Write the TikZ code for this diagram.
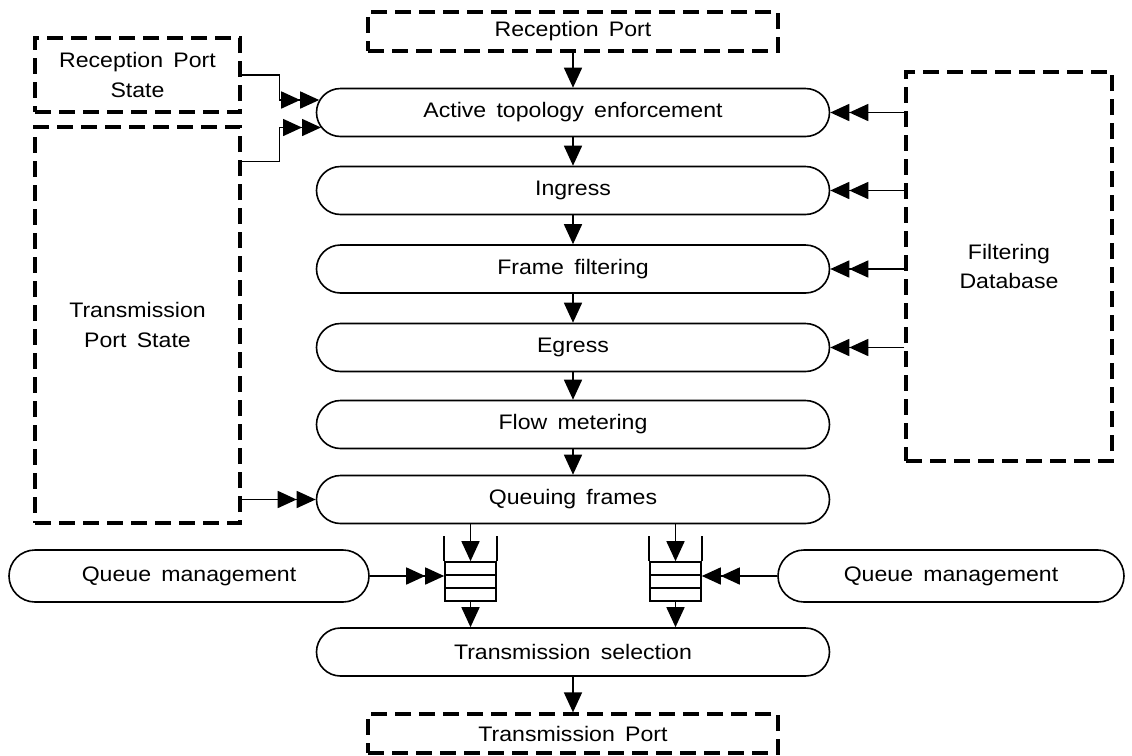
\documentclass[tikz,border=0pt]{standalone}
\usepackage{fontspec}
\setmainfont{Liberation Sans}[FakeStretch=1.1, WordSpace=1.6]
\usetikzlibrary{arrows.meta,calc}

\begin{document}
\begin{tikzpicture}[x=0.5pt,y=-0.5pt,
  font=\fontsize{10.5}{14.8}\selectfont,
  proc/.style={draw, line width=0.8pt, rounded corners=12pt,
    minimum width=256.5pt, minimum height=24pt, inner sep=0pt},
  port/.style={draw, line width=1.6pt, dash pattern=on 8pt off 4pt,
    inner sep=0pt, align=center},
  flow/.style={line width=0.8pt, -{Triangle[length=10pt,width=9pt]}},
  dflow/.style={line width=0.8pt,
    -{Triangle[length=9.5pt,width=8.5pt]Triangle[length=9.5pt,width=8.5pt]}},
  fifo/.style={draw, line width=0.8pt, minimum width=25.5pt,
    minimum height=19.5pt, inner sep=0pt}
]
\useasboundingbox (0,0) rectangle (1132,756);

% ports and state / database blocks
\node[port, minimum width=205pt, minimum height=19.5pt] (rp) at (573,31.5) {Reception Port};
\node[port, minimum width=102.5pt, minimum height=37pt] (rps) at (137.5,75) {Reception Port\\State};
\node[port, minimum width=102.5pt, minimum height=198pt] (tps) at (137.5,325) {Transmission\\Port State};
\node[port, minimum width=103pt, minimum height=194.5pt] (fdb) at (1009,266.5) {Filtering\\Database};
\node[port, minimum width=205pt, minimum height=19.5pt] (tp) at (573,733.5) {Transmission Port};

% forwarding process stages
\node[proc] (ate) at (573,112.5) {Active topology enforcement};
\node[proc] (ing) at (573,190.5) {Ingress};
\node[proc] (ff)  at (573,269)   {Frame filtering};
\node[proc] (eg)  at (573,347.5) {Egress};
\node[proc] (fm)  at (573,424.5) {Flow metering};
\node[proc] (qf)  at (573,499.5) {Queuing frames};
\node[proc] (ts)  at (573,652)   {Transmission selection};

\node[proc, minimum width=180pt, minimum height=26pt, rounded corners=13pt] (qml) at (189,576) {Queue management};
\node[proc, minimum width=173pt, minimum height=26pt, rounded corners=13pt] (qmr) at (951,576) {Queue management};

% the two output queues
\foreach \q/\x in {ql/470.5, qr/675.5} {
  \node[fifo] (\q) at (\x,581.5) {};
  \draw[line width=0.8pt] (\q.north west) -- ++(0,-25);
  \draw[line width=0.8pt] (\q.north east) -- ++(0,-25);
  \draw[line width=0.8pt] ($(\q.north west)+(0,13.5)$) -- ($(\q.north east)+(0,13.5)$);
  \draw[line width=0.8pt] ($(\q.north west)+(0,27)$) -- ($(\q.north east)+(0,27)$);
}

% main flow
\draw[flow] (rp.south) -- (ate.north);
\draw[flow] (ate) -- (ing);
\draw[flow] (ing) -- (ff);
\draw[flow] (ff) -- (eg);
\draw[flow] (eg) -- (fm);
\draw[flow] (fm) -- (qf);
\draw[flow] (qf.south -| ql.north) -- (ql.north);
\draw[flow] (qf.south -| qr.north) -- (qr.north);
\draw[flow] (ql.south) -- (ql.south |- ts.north);
\draw[flow] (qr.south) -- (qr.south |- ts.north);
\draw[flow] (ts.south) -- (tp.north);

% port state inputs
\coordinate (ateA) at ($(ate.west)+(3.5,-12.5)$);
\coordinate (ateB) at ($(ate.west)+(5.3,15)$);
\coordinate (tpsOut) at ($(tps.north east)+(0,36)$);
\draw[dflow] (rps.east) -- ++(38,0) |- (ateA);
\draw[dflow] (tpsOut) -- ++(38,0) |- (ateB);
\draw[dflow] (tps.east |- qf.west) -- (qf.west);

% filtering database inputs
\foreach \s in {ate,ing,ff,eg}
  \draw[dflow] (fdb.west |- \s.east) -- (\s.east);

% queue management inputs
\draw[dflow] (qml.east) -- (qml.east -| ql.west);
\draw[dflow] (qmr.west) -- (qmr.west -| qr.east);
\end{tikzpicture}
\end{document}
